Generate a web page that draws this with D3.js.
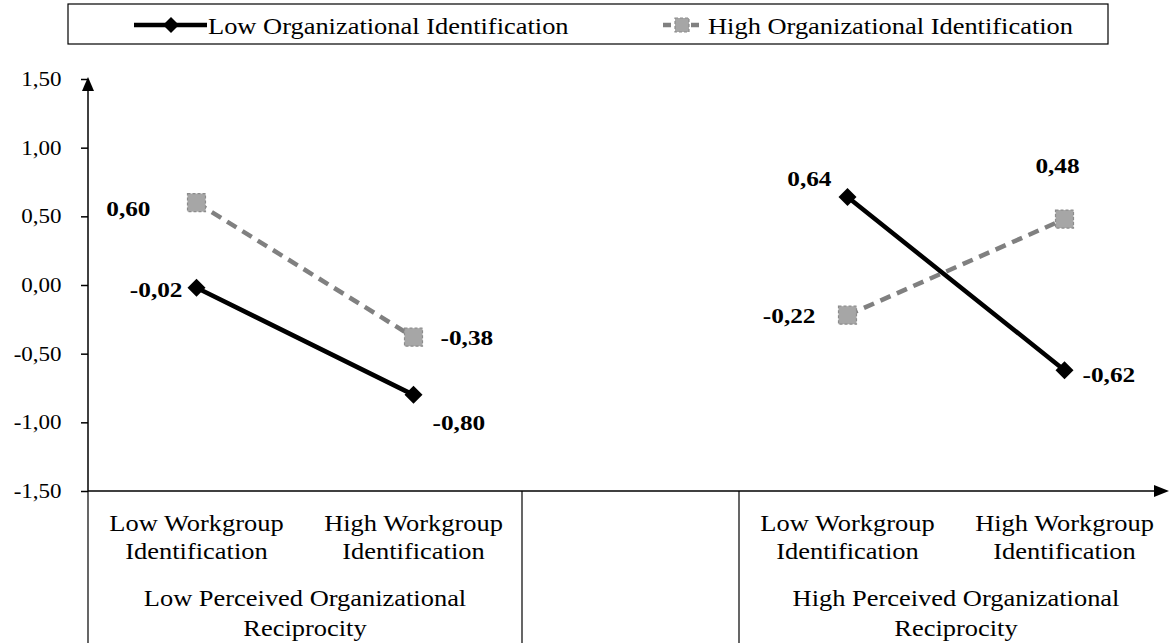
<!DOCTYPE html>
<html>
<head>
<meta charset="utf-8">
<script src="https://cdn.jsdelivr.net/npm/d3@7"></script>
<style>
  html, body { margin: 0; padding: 0; background: #fff; }
  svg { display: block; font-family: "Liberation Serif", "Times New Roman", serif; }
</style>
</head>
<body>
<svg id="chart" width="1169" height="643"></svg>
<script>
// categories along x (blank middle slot separates the two groups)
const categories = ['lowLow', 'lowHigh', 'gap', 'highLow', 'highHigh'];
const categoryLines = [
  ['Low Workgroup', 'Identification'],
  ['High Workgroup', 'Identification'],
  [],
  ['Low Workgroup', 'Identification'],
  ['High Workgroup', 'Identification']
];
const groups = [
  { from: 'lowLow', to: 'lowHigh', lines: ['Low Perceived Organizational', 'Reciprocity'] },
  { from: 'highLow', to: 'highHigh', lines: ['High Perceived Organizational', 'Reciprocity'] }
];
const yTicks = [-1.5, -1, -0.5, 0, 0.5, 1, 1.5];

const seriesNames = ['Low Organizational Identification', 'High Organizational Identification'];
const lowOI = [-0.02, -0.80, null, 0.64, -0.62];
const highOI = [0.60, -0.38, null, -0.22, 0.48];

// label placement per point (anchor, dx, dy)
const lowOILabelPos = [['end', -14, 2], ['start', 19, 27], null, ['end', -16, -19], ['start', 18, 4]];
const highOILabelPos = [['end', -46, 6], ['start', 27, 0], null, ['end', -32, 0], ['middle', -7, -54]];

const fmt = v => d3.format('.2f')(v).replace('.', ',').replace('−', '-');
const SX = 1.15; // reference type is a little wider than Liberation Serif

const svg = d3.select('#chart');
const mLeft = 88, mRight = 1173, mTop = 79, mBottom = 491;

const x = d3.scaleBand().domain(categories).range([mLeft, mRight]).padding(0);
const y = d3.scaleLinear().domain([-1.5, 1.5]).range([mBottom, mTop]);
const cx = c => x(c) + x.bandwidth() / 2;

function label(parent, px, py, str, size, anchor, bold) {
  const g = parent.append('g').attr('transform', `translate(${px},${py}) scale(${SX},1)`);
  return g.append('text').attr('dy', '0.35em').attr('text-anchor', anchor || 'middle')
    .attr('font-size', size).attr('font-weight', bold ? 'bold' : null).attr('fill', '#000')
    .text(str);
}

// y axis
const yAxis = d3.axisLeft(y).tickValues(yTicks).tickFormat(fmt).tickSize(7).tickPadding(16);
const yg = svg.append('g').attr('transform', `translate(${mLeft},0)`).call(yAxis);
yg.select('.domain').remove();
yg.selectAll('.tick line').attr('stroke', '#000').attr('stroke-width', 1.5);
yg.selectAll('.tick text').attr('font-size', 20).attr('fill', '#000')
  .attr('font-family', '"Liberation Serif", serif').attr('transform', `scale(${SX},1)`);

svg.append('line').attr('x1', mLeft).attr('x2', mLeft).attr('y1', mBottom).attr('y2', mTop + 8)
  .attr('stroke', '#000').attr('stroke-width', 1.5);
svg.append('path').attr('d', `M${mLeft - 6},${mTop + 12}L${mLeft},${mTop - 2}L${mLeft + 6},${mTop + 12}Z`).attr('fill', '#000');

// x axis line + arrow
svg.append('line').attr('x1', mLeft).attr('x2', 1158).attr('y1', mBottom).attr('y2', mBottom)
  .attr('stroke', '#000').attr('stroke-width', 1.5);
svg.append('path').attr('d', `M1154,${mBottom - 6}L1169,${mBottom}L1154,${mBottom + 6}Z`).attr('fill', '#000');

// category separators
[mLeft, x('gap'), x('highLow')].forEach(sx => {
  svg.append('line').attr('x1', sx).attr('x2', sx).attr('y1', mBottom).attr('y2', 643)
    .attr('stroke', '#000').attr('stroke-width', 1.2);
});

// category labels
categories.forEach((c, i) => {
  categoryLines[i].forEach((t, j) => label(svg, cx(c), 523 + j * 28, t, 23));
});
groups.forEach(g => {
  const gx = (x(g.from) + x(g.to) + x.bandwidth()) / 2;
  g.lines.forEach((t, j) => label(svg, gx, 598 + j * 30, t, 23));
});

// series
const seriesStyle = [
  { values: lowOI, pos: lowOILabelPos, color: '#000', dash: null },
  { values: highOI, pos: highOILabelPos, color: '#808080', dash: '11,7' }
];
const line = d3.line().defined(d => d.v != null).x(d => cx(d.c)).y(d => y(d.v));

function diamond(g, px, py, s) {
  g.append('path').attr('d', `M${px},${py - s}L${px + s},${py}L${px},${py + s}L${px - s},${py}Z`)
    .attr('fill', '#000');
}
function square(g, px, py, s) {
  g.append('rect').attr('x', px - s).attr('y', py - s).attr('width', 2 * s).attr('height', 2 * s)
    .attr('fill', '#a6a6a6').attr('stroke', '#8c8c8c').attr('stroke-width', 1.2)
    .attr('stroke-dasharray', '3,2');
}

// draw grey (high) first, then black
[1, 0].forEach(k => {
  const s = seriesStyle[k];
  const pts = categories.map((c, i) => ({ c, v: s.values[i] }));
  svg.append('path').datum(pts).attr('d', line).attr('fill', 'none')
    .attr('stroke', s.color).attr('stroke-width', 4.5)
    .attr('stroke-dasharray', s.dash);
});
[1, 0].forEach(k => {
  const s = seriesStyle[k];
  const g = svg.append('g');
  categories.forEach((c, i) => {
    const v = s.values[i];
    if (v == null) return;
    const px = cx(c), py = y(v);
    if (k === 0) diamond(g, px, py, 9); else square(g, px, py, 9);
    const p = s.pos[i];
    label(g, px + p[1], py + p[2], fmt(v), 22, p[0], true);
  });
});

// legend
const lg = svg.append('g');
lg.append('rect').attr('x', 68).attr('y', 4).attr('width', 1040).attr('height', 40)
  .attr('fill', '#fff').attr('stroke', '#000').attr('stroke-width', 1.2);
lg.append('line').attr('x1', 134).attr('x2', 207).attr('y1', 25).attr('y2', 25)
  .attr('stroke', '#000').attr('stroke-width', 4.5);
diamond(lg, 171, 25, 8);
label(lg, 208, 26, seriesNames[0], 23, 'start');
lg.append('line').attr('x1', 663).attr('x2', 702).attr('y1', 25).attr('y2', 25)
  .attr('stroke', '#808080').attr('stroke-width', 4.5).attr('stroke-dasharray', '8,6');
square(lg, 682, 25, 7);
label(lg, 708, 26, seriesNames[1], 23, 'start');
</script>
</body>
</html>
